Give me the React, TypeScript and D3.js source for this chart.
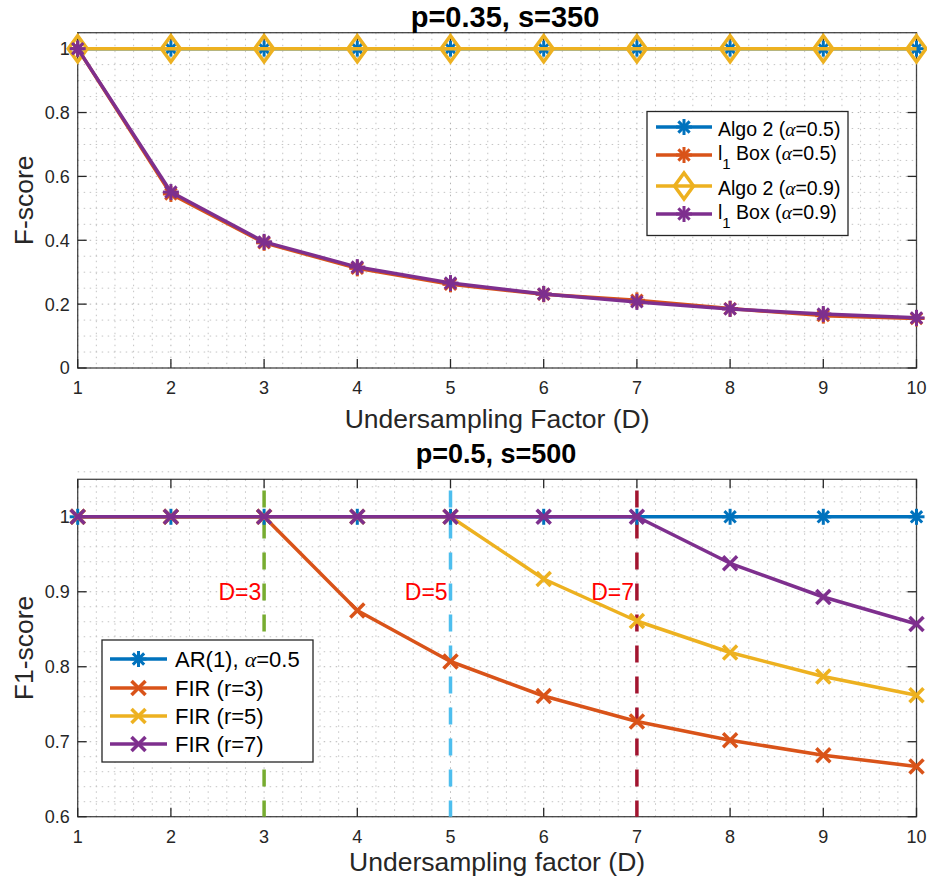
import React from "react";
import * as d3 from "d3";

// ---------- data ----------
const xValues = [1, 2, 3, 4, 5, 6, 7, 8, 9, 10];
const xTicks = [1, 2, 3, 4, 5, 6, 7, 8, 9, 10];

const topYTicks = [0, 0.2, 0.4, 0.6, 0.8, 1];
const topAlgo2Alpha05 = [1, 1, 1, 1, 1, 1, 1, 1, 1, 1];
const topL1BoxAlpha05 = [1, 0.545, 0.392, 0.312, 0.262, 0.231, 0.212, 0.186, 0.164, 0.155];
const topAlgo2Alpha09 = [1, 1, 1, 1, 1, 1, 1, 1, 1, 1];
const topL1BoxAlpha09 = [1, 0.551, 0.395, 0.316, 0.266, 0.232, 0.207, 0.185, 0.169, 0.157];

const botYTicks = [0.6, 0.7, 0.8, 0.9, 1];
const botAR1 = [1, 1, 1, 1, 1, 1, 1, 1, 1, 1];
const botFIR3 = [1, 1, 1, 0.875, 0.807, 0.761, 0.727, 0.702, 0.682, 0.667];
const botFIR5 = [1, 1, 1, 1, 1, 0.917, 0.861, 0.819, 0.787, 0.762];
const botFIR7 = [1, 1, 1, 1, 1, 1, 1, 0.938, 0.893, 0.857];

const dLines = [3, 5, 7];
const dLabels = ["D=3", "D=5", "D=7"];
const dLineRange = [0.6, 1.035];
const dLabelOffset = 0.49;
const dLabelY = 0.9;

// ---------- style ----------
const FONT = "'Liberation Sans', Arial, Helvetica, sans-serif";
const AX = "#262626";
const C = {
  blue: "#0072BD",
  orange: "#D95319",
  yellow: "#EDB120",
  purple: "#7E2F8E",
  green: "#77AC30",
  cyan: "#4DBEEE",
  darkred: "#A2142F",
};
const LW = 3.5;
const MW = 3;

type MarkerType = "asterisk" | "cross" | "diamond";

function Marker({ type, cx, cy, color }: { type: MarkerType; cx: number; cy: number; color: string }) {
  if (type === "asterisk") {
    const r = 8;
    const d = r * Math.SQRT1_2;
    return (
      <g stroke={color} strokeWidth={MW}>
        <line x1={cx - r} y1={cy} x2={cx + r} y2={cy} />
        <line x1={cx} y1={cy - r} x2={cx} y2={cy + r} />
        <line x1={cx - d} y1={cy - d} x2={cx + d} y2={cy + d} />
        <line x1={cx - d} y1={cy + d} x2={cx + d} y2={cy - d} />
      </g>
    );
  }
  if (type === "cross") {
    const r = 7;
    return (
      <g stroke={color} strokeWidth={MW + 0.5}>
        <line x1={cx - r} y1={cy - r} x2={cx + r} y2={cy + r} />
        <line x1={cx - r} y1={cy + r} x2={cx + r} y2={cy - r} />
      </g>
    );
  }
  const w = 9.5;
  const h = 13;
  return (
    <path
      d={`M${cx},${cy - h}L${cx + w},${cy}L${cx},${cy + h}L${cx - w},${cy}Z`}
      fill="none"
      stroke={color}
      strokeWidth={MW + 0.5}
      strokeLinejoin="miter"
    />
  );
}

type Series = { values: number[]; color: string; marker: MarkerType };

const fmt = (t: number) => String(+t.toFixed(2));

function minorTicks(lo: number, hi: number, step: number, majors: number[]) {
  const n = Math.round((hi - lo) / step);
  const out: number[] = [];
  for (let i = 0; i <= n; i++) {
    const v = +(lo + i * step).toFixed(4);
    if (!majors.some((m) => Math.abs(m - v) < 1e-6)) out.push(v);
  }
  return out;
}

function Axes(props: {
  left: number;
  right: number;
  top: number;
  bottom: number;
  yDomain: [number, number];
  yTicks: number[];
  yMinorStep: number;
  series: Series[];
  yLabel: string;
  xLabel: string;
  xLabelY: number;
  title: string;
  titleX: number;
  titleY: number;
  titleSize: number;
  extra?: (x: d3.ScaleLinear<number, number>, y: d3.ScaleLinear<number, number>) => React.ReactNode;
  legend: React.ReactNode;
}) {
  const { left, right, top, bottom, yDomain, yTicks, yMinorStep, series } = props;
  const x = d3.scaleLinear().domain([1, 10]).range([left, right]);
  const y = d3.scaleLinear().domain(yDomain).range([bottom, top]);
  const xMinor = minorTicks(1, 10, 0.2, xTicks);
  const yMinor = minorTicks(yDomain[0], yDomain[1], yMinorStep, yTicks);
  const line = d3
    .line<number>()
    .x((_, i) => x(xValues[i]))
    .y((v) => y(v));
  const tickLen = 9;
  return (
    <g>
      {/* grid */}
      <g strokeWidth={1} fill="none">
        {xMinor.map((t) => (
          <line key={"xm" + t} x1={x(t)} x2={x(t)} y1={top} y2={bottom} stroke="#c4c4c4" strokeDasharray="1.5 4.5" />
        ))}
        {yMinor.map((t) => (
          <line key={"ym" + t} x1={left} x2={right} y1={y(t)} y2={y(t)} stroke="#c4c4c4" strokeDasharray="1.5 4.5" />
        ))}
        {xTicks.map((t) => (
          <line key={"xM" + t} x1={x(t)} x2={x(t)} y1={top} y2={bottom} stroke="#b5b5b5" strokeDasharray="1.5 4.5" />
        ))}
        {yTicks.map((t) => (
          <line key={"yM" + t} x1={left} x2={right} y1={y(t)} y2={y(t)} stroke="#b5b5b5" strokeDasharray="1.5 4.5" />
        ))}
      </g>
      {/* box + ticks */}
      <rect x={left} y={top} width={right - left} height={bottom - top} fill="none" stroke={AX} strokeWidth={1.3} strokeOpacity={0.85} />
      <g stroke={AX} strokeWidth={1.3}>
        {xTicks.map((t) => (
          <g key={"xt" + t}>
            <line x1={x(t)} x2={x(t)} y1={bottom} y2={bottom - tickLen} />
            <line x1={x(t)} x2={x(t)} y1={top} y2={top + tickLen} />
          </g>
        ))}
        {yTicks.map((t) => (
          <g key={"yt" + t}>
            <line x1={left} x2={left + tickLen} y1={y(t)} y2={y(t)} />
            <line x1={right} x2={right - tickLen} y1={y(t)} y2={y(t)} />
          </g>
        ))}
      </g>
      {/* tick labels */}
      <g fontFamily={FONT} fontSize={18} fill={AX}>
        {xTicks.map((t) => (
          <text key={"xl" + t} x={x(t)} y={bottom + 26} textAnchor="middle">
            {fmt(t)}
          </text>
        ))}
        {yTicks.map((t) => (
          <text key={"yl" + t} x={left - 8} y={y(t)} dy="0.36em" textAnchor="end">
            {fmt(t)}
          </text>
        ))}
      </g>
      {/* extra (vertical lines etc.) */}
      {props.extra ? props.extra(x, y) : null}
      {/* series */}
      {series.map((s, si) => (
        <g key={"s" + si}>
          <path d={line(s.values) || ""} fill="none" stroke={s.color} strokeWidth={LW} strokeLinejoin="round" />
          {s.values.map((v, i) => (
            <Marker key={i} type={s.marker} cx={x(xValues[i])} cy={y(v)} color={s.color} />
          ))}
        </g>
      ))}
      {/* labels */}
      <text x={(left + right) / 2} y={props.xLabelY} textAnchor="middle" fontFamily={FONT} fontSize={26.5} fill={AX}>
        {props.xLabel}
      </text>
      <text
        transform={`translate(33,${(top + bottom) / 2}) rotate(-90)`}
        textAnchor="middle"
        fontFamily={FONT}
        fontSize={26.5}
        fill={AX}
      >
        {props.yLabel}
      </text>
      <text x={props.titleX} y={props.titleY} textAnchor="middle" fontFamily={FONT} fontSize={props.titleSize} fontWeight="bold" fill="#000">
        {props.title}
      </text>
      {props.legend}
    </g>
  );
}

function Alpha() {
  return (
    <tspan fontFamily="'Liberation Serif', 'DejaVu Serif', serif" fontStyle="italic">
      α
    </tspan>
  );
}

function TopLegend() {
  const x0 = 647, x1 = 848, y0 = 111.5, y1 = 235.5;
  const lx0 = 656, lx1 = 712, mx = 684, tx = 718;
  const rows: { y: number; color: string; marker: MarkerType; label: React.ReactNode; sub: boolean }[] = [
    { y: 127, color: C.blue, marker: "asterisk", sub: false, label: <>Algo 2 (<Alpha />=0.5)</> },
    {
      y: 155, color: C.orange, marker: "asterisk", sub: true,
      label: <>l<tspan dy={9} fontSize={15}>1</tspan><tspan dy={-9}> Box (</tspan><Alpha />=0.5)</>,
    },
    { y: 186, color: C.yellow, marker: "diamond", sub: false, label: <>Algo 2 (<Alpha />=0.9)</> },
    {
      y: 214, color: C.purple, marker: "asterisk", sub: true,
      label: <>l<tspan dy={9} fontSize={15}>1</tspan><tspan dy={-9}> Box (</tspan><Alpha />=0.9)</>,
    },
  ];
  return (
    <g>
      <rect x={x0} y={y0} width={x1 - x0} height={y1 - y0} fill="#fff" stroke={AX} strokeWidth={1.3} />
      {rows.map((r, i) => (
        <g key={i}>
          <line x1={lx0} x2={lx1} y1={r.y} y2={r.y} stroke={r.color} strokeWidth={LW} />
          <Marker type={r.marker} cx={mx} cy={r.y} color={r.color} />
          <text x={tx} y={r.y + (r.sub ? 4.5 : 8.5)} fontFamily={FONT} fontSize={19.5} fill="#000">
            {r.label}
          </text>
        </g>
      ))}
    </g>
  );
}

function BottomLegend() {
  const x0 = 102, x1 = 313, y0 = 640, y1 = 762;
  const lx0 = 110, lx1 = 167, mx = 138.5, tx = 175;
  const rows: { y: number; color: string; marker: MarkerType; label: React.ReactNode }[] = [
    { y: 659, color: C.blue, marker: "asterisk", label: <>AR(1), <Alpha />=0.5</> },
    { y: 688, color: C.orange, marker: "cross", label: <>FIR (r=3)</> },
    { y: 716, color: C.yellow, marker: "cross", label: <>FIR (r=5)</> },
    { y: 744, color: C.purple, marker: "cross", label: <>FIR (r=7)</> },
  ];
  return (
    <g>
      <rect x={x0} y={y0} width={x1 - x0} height={y1 - y0} fill="#fff" stroke={AX} strokeWidth={1.3} />
      {rows.map((r, i) => (
        <g key={i}>
          <line x1={lx0} x2={lx1} y1={r.y} y2={r.y} stroke={r.color} strokeWidth={LW} />
          <Marker type={r.marker} cx={mx} cy={r.y} color={r.color} />
          <text x={tx} y={r.y + 8} fontFamily={FONT} fontSize={22} fill="#000">
            {r.label}
          </text>
        </g>
      ))}
    </g>
  );
}

export default function App() {
  const topSeries: Series[] = [
    { values: topAlgo2Alpha05, color: C.blue, marker: "asterisk" },
    { values: topL1BoxAlpha05, color: C.orange, marker: "asterisk" },
    { values: topAlgo2Alpha09, color: C.yellow, marker: "diamond" },
    { values: topL1BoxAlpha09, color: C.purple, marker: "asterisk" },
  ];
  const botSeries: Series[] = [
    { values: botAR1, color: C.blue, marker: "asterisk" },
    { values: botFIR3, color: C.orange, marker: "cross" },
    { values: botFIR5, color: C.yellow, marker: "cross" },
    { values: botFIR7, color: C.purple, marker: "cross" },
  ];
  const dColors = [C.green, C.cyan, C.darkred];
  return (
    <div style={{ position: "absolute", left: 0, top: 0 }}>
      <svg width={927} height={888} viewBox="0 0 927 888" style={{ display: "block", background: "#fff" }}>
        <rect width={927} height={888} fill="#fff" />
        <Axes
          left={77.7}
          right={916.5}
          top={32.7}
          bottom={368}
          yDomain={[0, 1.05]}
          yTicks={topYTicks}
          yMinorStep={0.05}
          series={topSeries}
          yLabel="F-score"
          xLabel="Undersampling Factor (D)"
          xLabelY={428}
          title="p=0.35, s=350"
          titleX={505}
          titleY={27}
          titleSize={29}
          legend={<TopLegend />}
        />
        <Axes
          left={77.7}
          right={916.5}
          top={479.3}
          bottom={816.7}
          yDomain={[0.6, 1.05]}
          yTicks={botYTicks}
          yMinorStep={0.02}
          series={botSeries}
          yLabel="F1-score"
          xLabel="Undersampling factor (D)"
          xLabelY={871}
          title="p=0.5, s=500"
          titleX={496}
          titleY={463}
          titleSize={27}
          legend={<BottomLegend />}
          extra={(x, y) => (
            <g>
              {dLines.map((d, i) => (
                <g key={i}>
                  <line
                    x1={x(d)}
                    x2={x(d)}
                    y1={y(dLineRange[1])}
                    y2={y(dLineRange[0])}
                    stroke={dColors[i]}
                    strokeWidth={LW}
                    strokeDasharray="17 14"
                  />
                  <text
                    x={x(d - dLabelOffset)}
                    y={y(dLabelY)}
                    dy="0.36em"
                    fontFamily={FONT}
                    fontSize={23}
                    fill="#FF0000"
                  >
                    {dLabels[i]}
                  </text>
                </g>
              ))}
            </g>
          )}
        />
      </svg>
    </div>
  );
}
